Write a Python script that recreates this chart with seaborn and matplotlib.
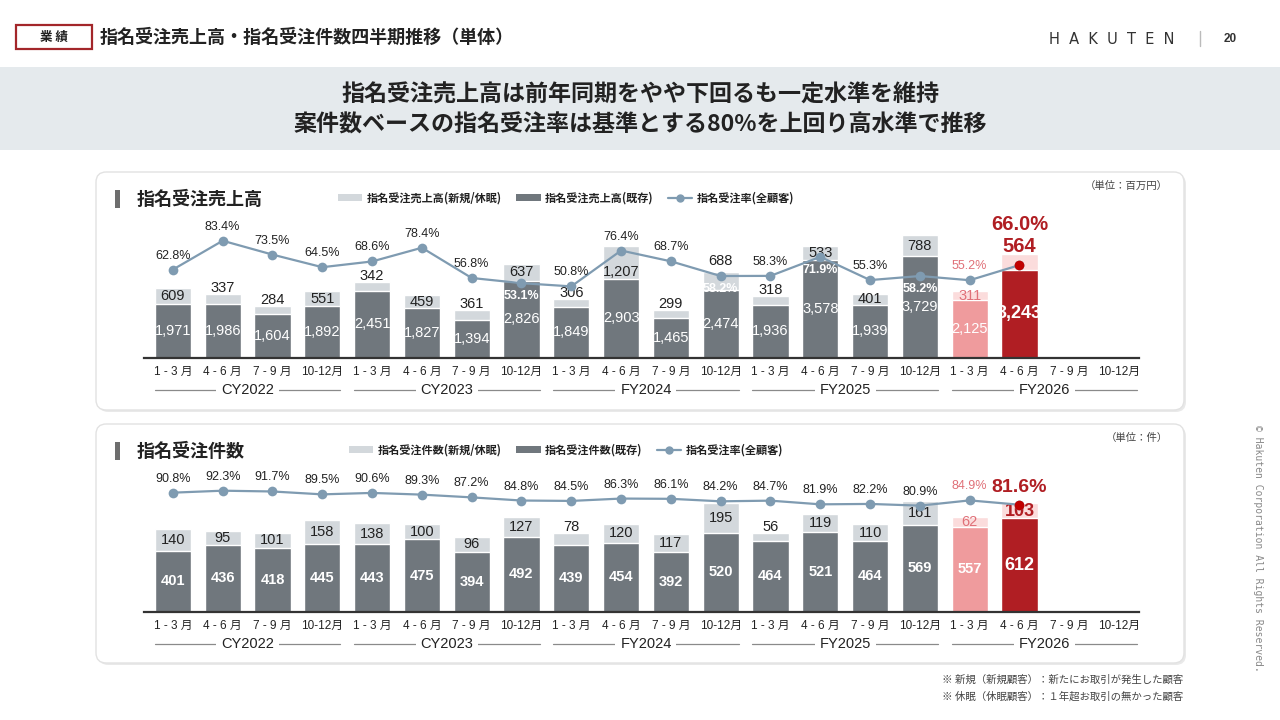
import numpy as np
import pandas as pd
import matplotlib
matplotlib.use('Agg')
from matplotlib import pyplot as plt
from matplotlib.patches import FancyBboxPatch, Rectangle, Patch
from matplotlib.lines import Line2D
import seaborn as sns

# data
quarter_labels = ['1 - 3 月', '4 - 6 月', '7 - 9 月', '10-12月']
groups = ['CY2022', 'CY2023', 'FY2024', 'FY2025', 'FY2026']

sales_existing = [1971, 1986, 1604, 1892, 2451, 1827, 1394, 2826, 1849, 2903,
                  1465, 2474, 1936, 3578, 1939, 3729, 2125, 3243]
sales_new = [609, 337, 284, 551, 342, 459, 361, 637, 306, 1207,
             299, 688, 318, 533, 401, 788, 311, 564]
sales_rate = [62.8, 83.4, 73.5, 64.5, 68.6, 78.4, 56.8, 53.1, 50.8, 76.4,
              68.7, 58.2, 58.3, 71.9, 55.3, 58.2, 55.2, 66.0]

count_existing = [401, 436, 418, 445, 443, 475, 394, 492, 439, 454,
                  392, 520, 464, 521, 464, 569, 557, 612]
count_new = [140, 95, 101, 158, 138, 100, 96, 127, 78, 120,
             117, 195, 56, 119, 110, 161, 62, 103]
count_rate = [90.8, 92.3, 91.7, 89.5, 90.6, 89.3, 87.2, 84.8, 84.5, 86.3,
              86.1, 84.2, 84.7, 81.9, 82.2, 80.9, 84.9, 81.6]

# colours
GRAY_D = '#70777d'
GRAY_L = '#d3d8dc'
PINK = '#ef9b9d'
PINK_L = '#fbdcdc'
RED = '#b01e23'
RED_TXT = '#e07078'
LINE_C = '#7f9bb1'
TXT = '#222222'

sns.set_theme(style='white')
plt.rcParams['font.family'] = ['Liberation Sans', 'Noto Sans CJK JP', 'DejaVu Sans']
JP = ['Noto Sans CJK JP', 'DejaVu Sans']

W, H = 1280, 720
fig = plt.figure(figsize=(12.8, 7.2), dpi=100)
fig.patch.set_facecolor('white')


def fx(x):
    return x / W


def fy(y):
    return 1 - y / H


def px2pt(p):
    return p * 72 / 100


# ---- header ----
fig.add_artist(Rectangle((fx(16), fy(49)), fx(76), 24 / H, transform=fig.transFigure,
                         fc='white', ec='#a3262a', lw=1.6))
fig.text(fx(54), fy(37), '業 績', family=JP, fontsize=9, weight='bold', ha='center', va='center', color=TXT)
fig.text(fx(100), fy(37), '指名受注売上高・指名受注件数四半期推移（単体）', family=JP, fontsize=13,
         weight='bold', ha='left', va='center', color=TXT)
fig.text(fx(1112), fy(39), 'H  A  K  U  T  E  N', fontsize=10.5, ha='center', va='center', color='#333333',
         family=['DejaVu Sans'])
fig.add_artist(Line2D([fx(1200), fx(1200)], [fy(31), fy(46)], transform=fig.transFigure, color='#bbbbbb', lw=1))
fig.text(fx(1230), fy(39), '20', fontsize=8.5, weight='bold', ha='center', va='center', color='#333333')

# banner
fig.add_artist(Rectangle((0, fy(150)), 1, 83 / H, transform=fig.transFigure, fc='#e5eaed', ec='none'))
fig.text(0.5, fy(95), '指名受注売上高は前年同期をやや下回るも一定水準を維持', family=JP, fontsize=16.6,
         weight='bold', ha='center', va='center', color=TXT)
fig.text(0.5, fy(125), '案件数ベースの指名受注率は基準とする80%を上回り高水準で推移', family=JP, fontsize=16.6,
         weight='bold', ha='center', va='center', color=TXT)


def panel_box(top, bottom):
    fig.add_artist(FancyBboxPatch((fx(98), fy(bottom + 2)), fx(1088), (bottom - top) / H,
                                  boxstyle='round,pad=0,rounding_size=0.008', mutation_aspect=W / H,
                                  transform=fig.transFigure, fc='#e9e9e9', ec='none', zorder=0))
    fig.add_artist(FancyBboxPatch((fx(96), fy(bottom)), fx(1088), (bottom - top) / H,
                                  boxstyle='round,pad=0,rounding_size=0.008', mutation_aspect=W / H,
                                  transform=fig.transFigure, fc='white', ec='#e2e2e2', lw=1, zorder=0))


def draw_chart(top_px, base_px, existing, new, rate, px_unit, px_pct, title, unit, legend_names,
               new_small, rate_below, new_shift, big, exist_weight):
    n = len(existing)
    qid = ['q%d' % i for i in range(20)]
    ax = fig.add_axes([fx(144), fy(base_px), fx(1139 - 144), (base_px - top_px) / H])
    ax.set_facecolor('none')
    h = base_px - top_px

    exist_cols = [GRAY_D] * (n - 2) + [PINK, RED]
    new_cols = [GRAY_L] * (n - 2) + [PINK_L, PINK_L]
    df = pd.DataFrame({'q': qid[:n], 'existing': existing,
                       'total': np.array(existing) + np.array(new)})
    sns.barplot(data=df, x='q', y='total', order=qid, hue='q', palette=dict(zip(qid, new_cols)),
                width=0.73, saturation=1, errorbar=None, legend=False, ax=ax)
    sns.barplot(data=df, x='q', y='existing', order=qid, hue='q', palette=dict(zip(qid, exist_cols)),
                width=0.73, saturation=1, errorbar=None, legend=False, ax=ax)
    ax.set_ylim(0, h / px_unit)

    ax2 = ax.twinx()
    sns.lineplot(x=np.arange(n), y=rate, ax=ax2, color=LINE_C, lw=1.6, marker='o', markersize=7,
                 markeredgewidth=0)
    ax2.plot([n - 1], [rate[-1]], 'o', color='#c00000', markersize=7, markeredgewidth=0)
    ax2.set_ylim(0, h / px_pct)

    for a in (ax, ax2):
        a.set_xlim(-0.58, 19.4)
        a.set_yticks([])
        a.set_xlabel('')
        a.set_ylabel('')
        for s in a.spines.values():
            s.set_visible(False)
    ax.spines['bottom'].set_visible(True)
    ax.spines['bottom'].set_color('#333333')
    ax.spines['bottom'].set_linewidth(1.6)
    ax.set_xticks(range(20))
    ax.set_xticklabels(quarter_labels * 5, fontsize=8.5, color=TXT)
    ax.tick_params(axis='x', length=0, pad=px2pt(8))

    # group labels with side rules
    gy = -32 / h
    for g, name in enumerate(groups):
        ax.plot([4 * g - 0.365, 4 * g + 3.365], [gy, gy], transform=ax.get_xaxis_transform(),
                color='#8a8a8a', lw=0.9, clip_on=False)
        ax.text(4 * g + 1.5, gy, name, transform=ax.get_xaxis_transform(), ha='center', va='center',
                fontsize=10.5, color=TXT, clip_on=False,
                bbox=dict(fc='white', ec='none', pad=3.5))

    # value labels
    for i in range(n):
        e, nw = existing[i], new[i]
        last = i == n - 1
        ax.text(i, e / 2, f'{e:,}', ha='center', va='center', color='white',
                fontsize=13 if last else 10.5, weight='bold' if last else exist_weight)
        if last:
            continue
        col = RED_TXT if i == n - 2 else TXT
        if nw < new_small and i != n - 2:
            ax.annotate(f'{nw:,}', (i, e + nw), xytext=(0, px2pt(6)), textcoords='offset points',
                        ha='center', va='center', fontsize=10.5, color=col)
        else:
            ax.annotate(f'{nw:,}', (i, e + nw / 2), xytext=(0, px2pt(new_shift.get(i, 0))),
                        textcoords='offset points', ha='center', va='center', fontsize=10.5, color=col)

    for i in range(n - 1):
        if i in rate_below:
            ax2.annotate(f'{rate[i]:.1f}%', (i, rate[i]), xytext=(0, -px2pt(13)), textcoords='offset points',
                         ha='center', va='center', fontsize=9, color='white', weight='bold')
        else:
            col = RED_TXT if i == n - 2 else TXT
            ax2.annotate(f'{rate[i]:.1f}%', (i, rate[i]), xytext=(0, px2pt(14)), textcoords='offset points',
                         ha='center', va='center', fontsize=9, color=col)

    # highlighted latest quarter
    i = n - 1
    if big:
        ax.annotate(f'{new[i]:,}', (i, existing[i] + new[i]), xytext=(0, px2pt(8)), textcoords='offset points',
                    ha='center', va='center', fontsize=14.5, color=RED, weight='bold')
        ax.annotate(f'{rate[i]:.1f}%', (i, existing[i] + new[i]), xytext=(0, px2pt(30)),
                    textcoords='offset points', ha='center', va='center', fontsize=14.5, color=RED,
                    weight='bold')
    else:
        ax.annotate(f'{new[i]:,}', (i, existing[i] + new[i] / 2), xytext=(0, -px2pt(1)),
                    textcoords='offset points', ha='center', va='center', fontsize=13, color=RED,
                    weight='bold')
        ax2.annotate(f'{rate[i]:.1f}%', (i, rate[i]), xytext=(0, px2pt(17)), textcoords='offset points',
                     ha='center', va='center', fontsize=14, color=RED, weight='bold')

    # panel title, unit, legend
    fig.add_artist(Rectangle((fx(115), fy(top_px - 2)), fx(5), 18 / H, transform=fig.transFigure,
                             fc='#6e6e6e', ec='none'))
    fig.text(fx(137), fy(top_px - 11), title, family=JP, fontsize=13, weight='bold',
             ha='left', va='center', color=TXT)
    fig.text(fx(1168), fy(top_px - 24), unit, family=JP, fontsize=7.5, ha='right', va='center',
             color='#444444')
    handles = [Patch(fc=GRAY_L, ec='none'), Patch(fc=GRAY_D, ec='none'),
               Line2D([], [], color=LINE_C, lw=1.6, marker='o', markersize=5)]
    leg = fig.legend(handles, legend_names, loc='center', bbox_to_anchor=(fx(566), fy(top_px - 12)),
                     ncol=3, frameon=False, handlelength=2.2, handleheight=0.6, columnspacing=1.3,
                     handletextpad=0.4, prop={'family': JP, 'size': 8, 'weight': 'bold'})
    for t in leg.get_texts():
        t.set_color(TXT)
    return ax


panel_box(172, 410)
panel_box(424, 663)

draw_chart(210, 357.5, sales_existing, sales_new, sales_rate, 0.02713, 1.40,
           '指名受注売上高', '（単位：百万円）',
           ['指名受注売上高(新規/休眠)', '指名受注売上高(既存)', '指名受注率(全顧客)'],
           new_small=400, rate_below={7, 11, 13, 15}, new_shift={9: -10, 11: 20}, big=True,
           exist_weight='normal')

draw_chart(462, 611.7, count_existing, count_new, count_rate, 0.1523, 1.311,
           '指名受注件数', '（単位：件）',
           ['指名受注件数(新規/休眠)', '指名受注件数(既存)', '指名受注率(全顧客)'],
           new_small=90, rate_below=set(), new_shift={}, big=False, exist_weight='bold')

# footnotes and side copyright
fig.text(fx(1183), fy(680), '※ 新規（新規顧客）：新たにお取引が発生した顧客', family=JP, fontsize=7.5,
         ha='right', va='center', color='#444444')
fig.text(fx(1183), fy(697), '※ 休眠（休眠顧客）：１年超お取引の無かった顧客', family=JP, fontsize=7.5,
         ha='right', va='center', color='#444444')
fig.text(fx(1258), fy(548), '© Hakuten Corporation All Rights Reserved.', rotation=270, fontsize=7,
         ha='center', va='center', color='#888888', family=['DejaVu Sans Mono'])

fig.savefig('out.png', dpi=100, facecolor='white')
